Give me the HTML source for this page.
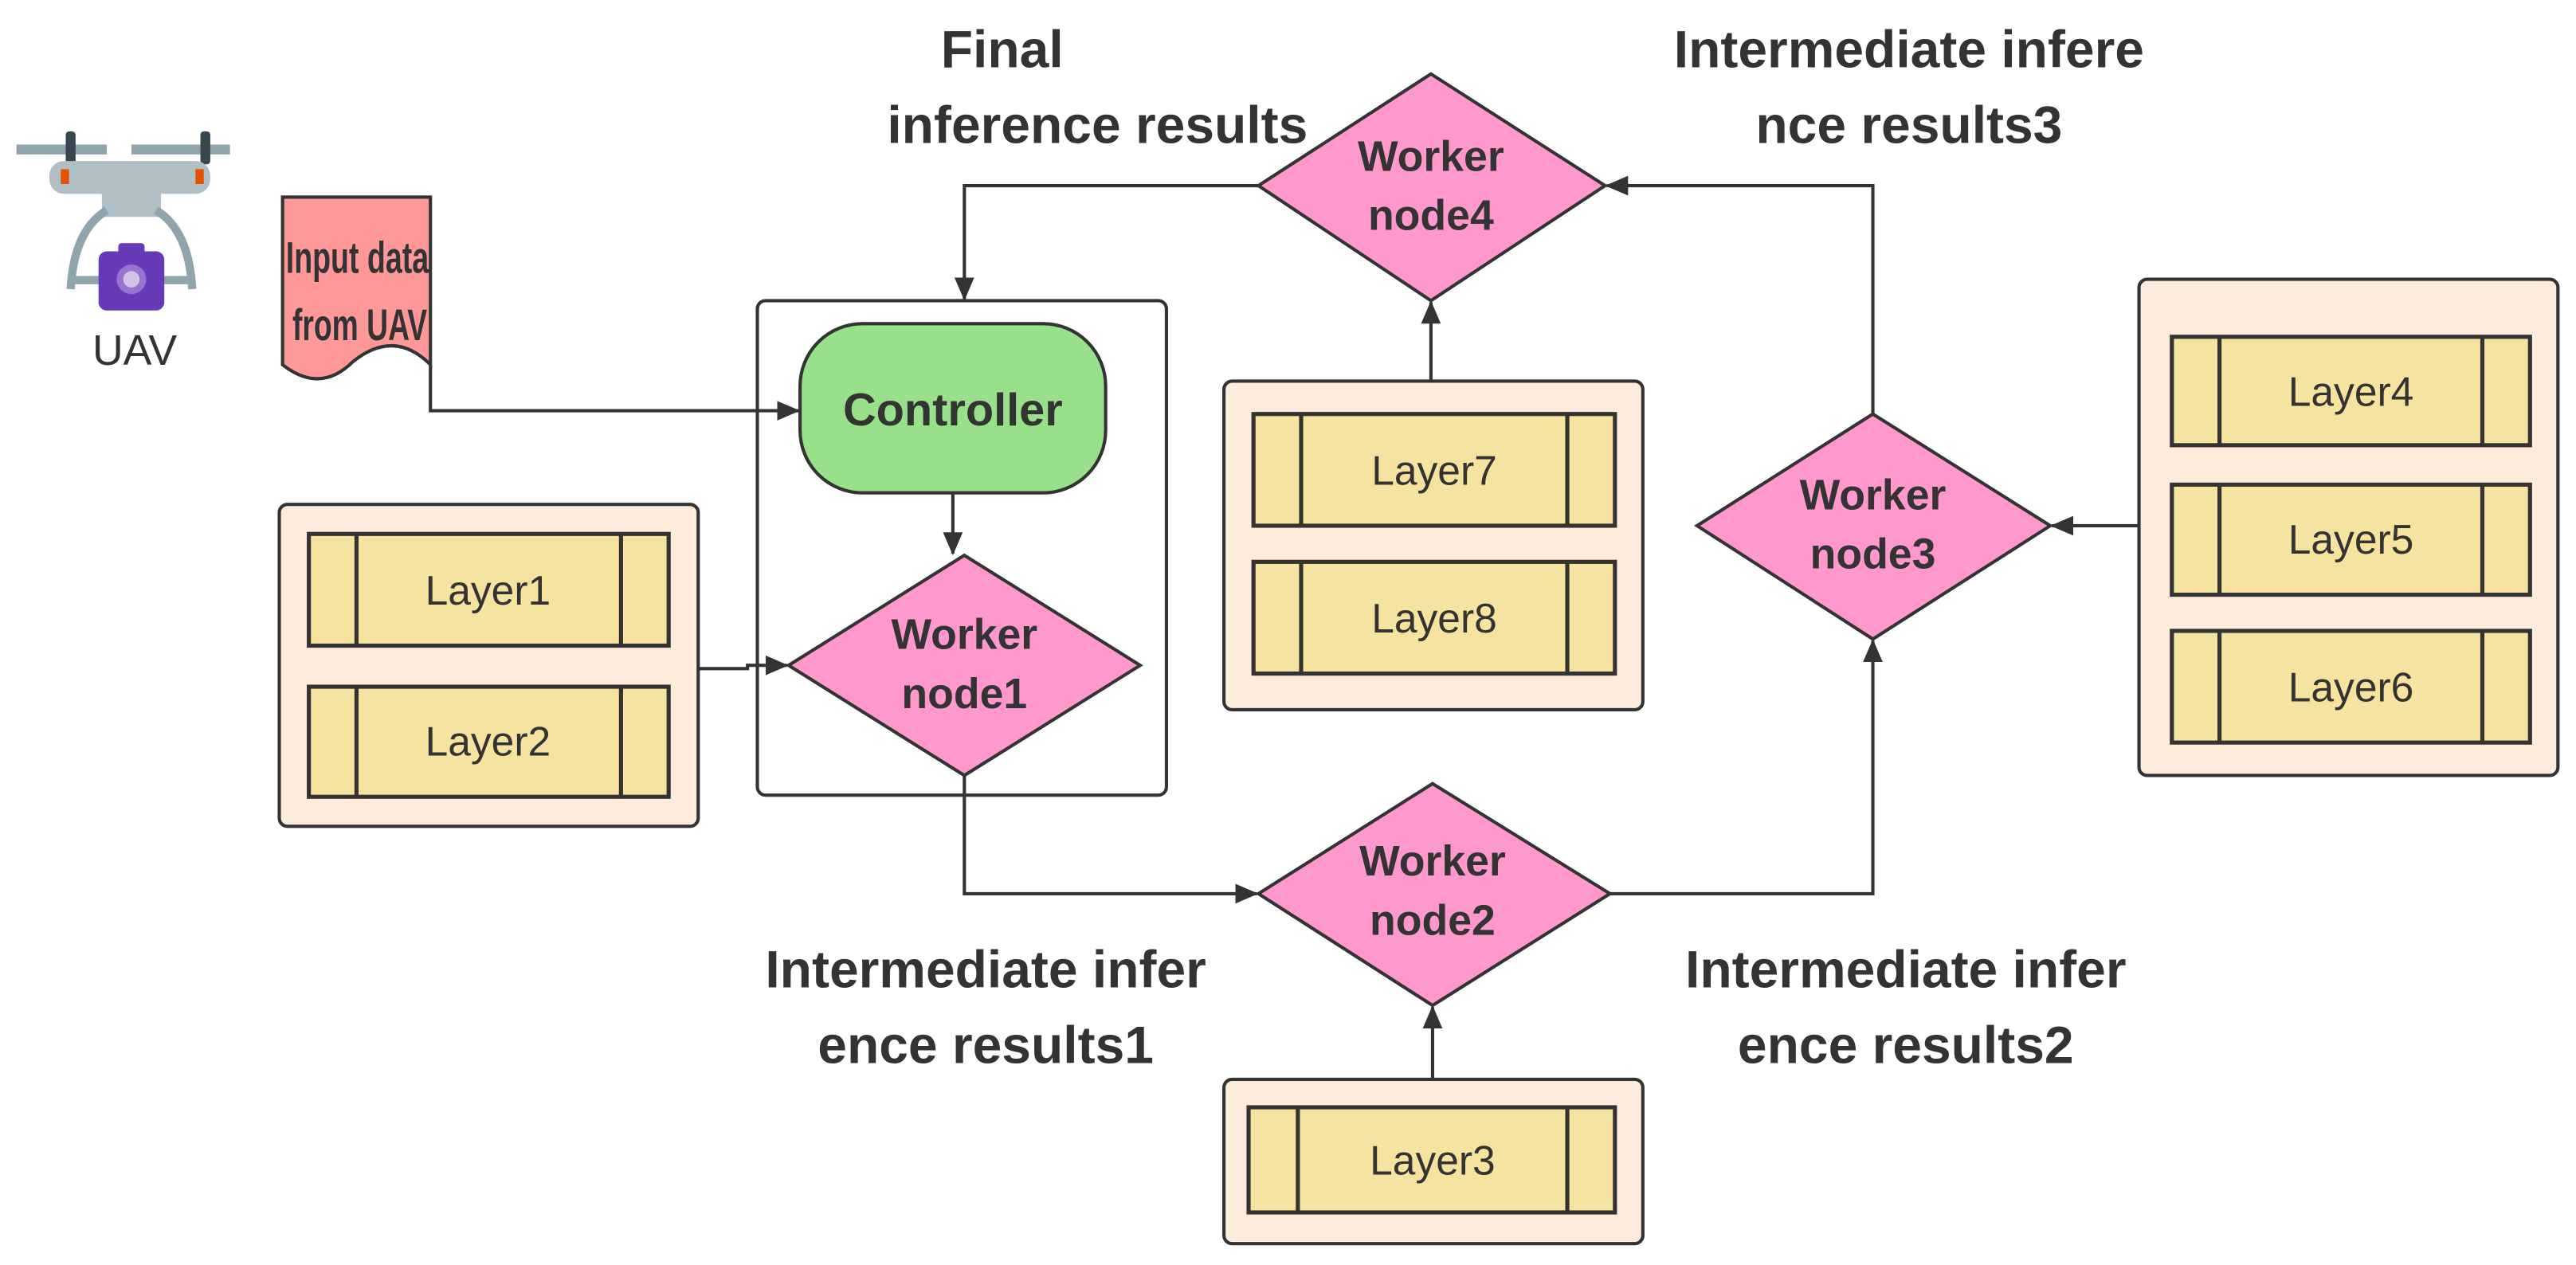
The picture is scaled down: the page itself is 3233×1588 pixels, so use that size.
<!DOCTYPE html>
<html><head><meta charset="utf-8"><style>
html,body{margin:0;padding:0;background:#fff;}
svg{display:block;}
text{font-family:"Liberation Sans",sans-serif;fill:#333;}
.b{font-weight:bold;}
</style></head><body>
<svg width="3233" height="1588" viewBox="0 0 1568 770" preserveAspectRatio="none" xmlns="http://www.w3.org/2000/svg">
<defs>
<marker id="a" markerWidth="14" markerHeight="12" refX="13" refY="6" orient="auto" markerUnits="userSpaceOnUse"><path d="M0,0 L14,6 L0,12 Z" fill="#333"/></marker>
</defs>
<!-- drone -->
<g>
<rect x="10" y="88" width="55" height="6" fill="#90a4ae"/>
<rect x="80" y="88" width="60" height="6" fill="#90a4ae"/>
<rect x="40" y="80" width="6" height="20" fill="#37474f" rx="2"/>
<rect x="122" y="80" width="6" height="20" fill="#37474f" rx="2"/>
<rect x="30" y="98" width="98" height="20" rx="9" fill="#b0bec5"/>
<rect x="37" y="103" width="5" height="9" fill="#e65100"/>
<rect x="119" y="103" width="5" height="9" fill="#e65100"/>
<rect x="62" y="112" width="36" height="20" fill="#b0bec5"/>
<path d="M65,128 Q45,140 43,176 M95,128 Q115,140 117,176" stroke="#90a4ae" stroke-width="5" fill="none"/>
<rect x="43" y="168" width="74" height="5" fill="#90a4ae"/>
<rect x="60" y="153" width="40" height="36" rx="5" fill="#673ab7"/>
<rect x="72" y="148" width="16" height="8" rx="2" fill="#673ab7"/>
<circle cx="80" cy="170" r="9" fill="#9575cd"/>
<circle cx="80" cy="170" r="5" fill="#d1c4e9"/>
<text x="82" y="222" font-size="26" text-anchor="middle" fill="#444">UAV</text>
</g>
<!-- input doc -->
<path d="M172,120 L262,120 L262,222 Q240,200 215,220 Q195,240 172,222 Z" fill="#ff9999" stroke="#333" stroke-width="2"/>
<text class="b" x="174" y="166" font-size="27" textLength="87" lengthAdjust="spacingAndGlyphs">Input data</text>
<text class="b" x="178" y="207" font-size="27" textLength="82" lengthAdjust="spacingAndGlyphs">from UAV</text>
<!-- container -->
<rect x="461" y="183" width="249" height="301" rx="5" fill="none" stroke="#333" stroke-width="2"/>
<rect x="487" y="197" width="186" height="103" rx="38" fill="#98e08a" stroke="#333" stroke-width="2"/>
<text class="b" x="580" y="259" font-size="28" text-anchor="middle">Controller</text>
<!-- diamonds -->
<g fill="#ff99cc" stroke="#333" stroke-width="2">
<path d="M587,338 L694,405 L587,472 L480,405 Z"/>
<path d="M871,45 L977,113 L871,183 L766,113 Z"/>
<path d="M1140,252 L1248,320 L1140,389 L1033,320 Z"/>
<path d="M872,477 L980,544 L872,612 L766,544 Z"/>
</g>
<g class="b" font-size="26" text-anchor="middle">
<text class="b" x="587" y="395">Worker</text><text class="b" x="587" y="431">node1</text>
<text class="b" x="871" y="104">Worker</text><text class="b" x="871" y="140">node4</text>
<text class="b" x="1140" y="310">Worker</text><text class="b" x="1140" y="346">node3</text>
<text class="b" x="872" y="533">Worker</text><text class="b" x="872" y="569">node2</text>
</g>
<!-- groups -->
<g fill="#fdebdc" stroke="#333" stroke-width="2">
<rect x="170" y="307" width="255" height="196" rx="5"/>
<rect x="745" y="232" width="255" height="200" rx="5"/>
<rect x="1302" y="170" width="255" height="302" rx="5"/>
<rect x="745" y="657" width="255" height="100" rx="5"/>
</g>
<g fill="#f5e3a0" stroke="#333" stroke-width="2.5">
<rect x="188" y="325" width="219" height="68"/><line x1="217" y1="325" x2="217" y2="393"/><line x1="378" y1="325" x2="378" y2="393"/>
<rect x="188" y="418" width="219" height="67"/><line x1="217" y1="418" x2="217" y2="485"/><line x1="378" y1="418" x2="378" y2="485"/>
<rect x="763" y="252" width="220" height="68"/><line x1="792" y1="252" x2="792" y2="320"/><line x1="954" y1="252" x2="954" y2="320"/>
<rect x="763" y="342" width="220" height="68"/><line x1="792" y1="342" x2="792" y2="410"/><line x1="954" y1="342" x2="954" y2="410"/>
<rect x="1322" y="205" width="218" height="66"/><line x1="1351" y1="205" x2="1351" y2="271"/><line x1="1511" y1="205" x2="1511" y2="271"/>
<rect x="1322" y="295" width="218" height="67"/><line x1="1351" y1="295" x2="1351" y2="362"/><line x1="1511" y1="295" x2="1511" y2="362"/>
<rect x="1322" y="384" width="218" height="68"/><line x1="1351" y1="384" x2="1351" y2="452"/><line x1="1511" y1="384" x2="1511" y2="452"/>
<rect x="760" y="674" width="223" height="64"/><line x1="790" y1="674" x2="790" y2="738"/><line x1="954" y1="674" x2="954" y2="738"/>
</g>
<g font-size="25" text-anchor="middle" fill="#222">
<text x="297" y="368">Layer1</text>
<text x="297" y="460">Layer2</text>
<text x="873" y="295">Layer7</text>
<text x="873" y="385">Layer8</text>
<text x="1431" y="247">Layer4</text>
<text x="1431" y="337">Layer5</text>
<text x="1431" y="427">Layer6</text>
<text x="872" y="715">Layer3</text>
</g>
<!-- connectors -->
<g fill="none" stroke="#333" stroke-width="2" marker-end="url(#a)">
<path d="M262,222 L262,250 L486,250"/>
<path d="M580,300 L580,337"/>
<path d="M425,407 L455,407 L455,405 L479,405"/>
<path d="M587,472 L587,544 L765,544"/>
<path d="M980,544 L1140,544 L1140,390"/>
<path d="M1302,320 L1249,320"/>
<path d="M1140,252 L1140,113 L978,113"/>
<path d="M871,232 L871,184"/>
<path d="M872,657 L872,613"/>
<path d="M766,113 L587,113 L587,182"/>
</g>
<!-- labels -->
<g class="b" font-size="32" text-anchor="middle" fill="#3a3a3a">
<text class="b" x="610" y="41">Final</text>
<text class="b" x="668" y="87">inference results</text>
<text class="b" x="1162" y="41">Intermediate infere</text>
<text class="b" x="1162" y="87">nce results3</text>
<text class="b" x="600" y="601">Intermediate infer</text>
<text class="b" x="600" y="647">ence results1</text>
<text class="b" x="1160" y="601">Intermediate infer</text>
<text class="b" x="1160" y="647">ence results2</text>
</g>
</svg>
</body></html>
